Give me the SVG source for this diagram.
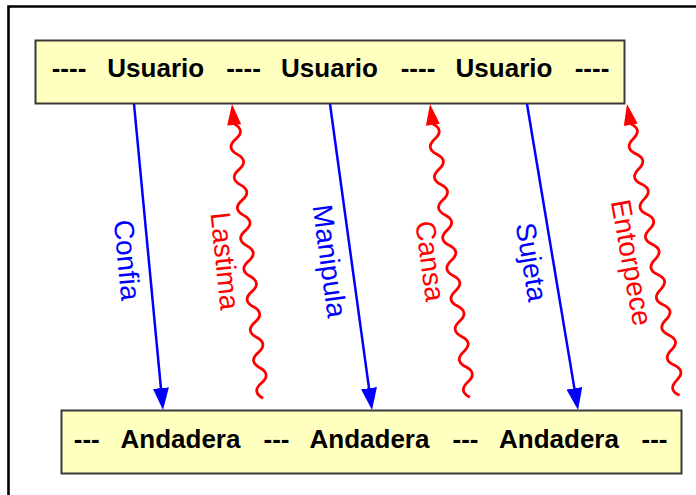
<svg xmlns="http://www.w3.org/2000/svg" xmlns:xlink="http://www.w3.org/1999/xlink" width="696" height="495" viewBox="0 0 696 495">
  <style>
    .bar { fill: #FFFFC0; stroke: #3a3a3a; stroke-width: 2; }
    .bar-text { font-family: "Liberation Sans", Arial, sans-serif; font-weight: bold; font-size: 26px; fill: #000; text-anchor: middle; }
    .blue-line { stroke: #0000FF; stroke-width: 2.5; fill: none; }
    .red-wave { stroke: #FF0000; stroke-width: 2.8; fill: none; stroke-linejoin: round; }
    .red-head { fill: #FF0000; }
    .lbl { font-family: "Liberation Sans", Arial, sans-serif; font-size: 28px; text-anchor: middle; }
    .lbl-blue { fill: #0000FF; }
    .lbl-red { fill: #FF0000; }
  </style>
  <defs>
    <marker id="blueHead" viewBox="0 0 22 16" refX="12" refY="8" markerWidth="22" markerHeight="16" markerUnits="userSpaceOnUse" orient="auto">
      <path d="M0,0 L22,8 L0,16 Z" fill="#0000FF"/>
    </marker>
    <!-- wavy arrow in a local frame: tip at origin, body running along +x -->
    <g id="wavyArrow">
      <path class="red-wave" d="M20,0 q7.67,-11 15.33,0 t15.33,0 t15.33,0 t15.33,0 t15.33,0 t15.33,0 t15.33,0 t15.33,0 t15.33,0 t15.33,0 t15.33,0 t15.33,0 t15.33,0 t15.33,0 t15.33,0 t15.33,0 t15.33,0 t15.33,0"/>
      <path class="red-head" d="M0,0 L21,-7 L21,7 Z"/>
    </g>
  </defs>

  <rect width="696" height="495" fill="#FFFFFF"/>
  <!-- outer frame -->
  <path d="M8.5,495 V6.5 H696" fill="none" stroke="#000" stroke-width="2.6"/>

  <g id="usuario-bar">
    <rect class="bar" x="35.5" y="40.5" width="589" height="63"/>
    <text class="bar-text" x="69" y="77">----</text>
    <text class="bar-text" x="155.75" y="77">Usuario</text>
    <text class="bar-text" x="243.5" y="77">----</text>
    <text class="bar-text" x="329.5" y="77">Usuario</text>
    <text class="bar-text" x="418" y="77">----</text>
    <text class="bar-text" x="504" y="77">Usuario</text>
    <text class="bar-text" x="592" y="77">----</text>
  </g>

  <g id="andadera-bar">
    <rect class="bar" x="61.5" y="410.5" width="620" height="63"/>
    <text class="bar-text" x="86.75" y="448">---</text>
    <text class="bar-text" x="180.5" y="448">Andadera</text>
    <text class="bar-text" x="276.5" y="448">---</text>
    <text class="bar-text" x="369.5" y="448">Andadera</text>
    <text class="bar-text" x="465.5" y="448">---</text>
    <text class="bar-text" x="559" y="448">Andadera</text>
    <text class="bar-text" x="654.5" y="448">---</text>
  </g>

  <g id="connectors">
    <!-- straight blue arrows, top to bottom -->
    <line class="blue-line" x1="134" y1="104" x2="162.06" y2="400.05" marker-end="url(#blueHead)"/>
    <line class="blue-line" x1="330" y1="104" x2="370.64" y2="400.09" marker-end="url(#blueHead)"/>
    <line class="blue-line" x1="527" y1="104" x2="576.36" y2="400.14" marker-end="url(#blueHead)"/>

    <!-- wavy red arrows, bottom to top -->
    <use xlink:href="#wavyArrow" transform="translate(232,104) rotate(83.98)"/>
    <use xlink:href="#wavyArrow" transform="translate(430,104) rotate(82.25)"/>
    <use xlink:href="#wavyArrow" transform="translate(627,104) rotate(79.78)"/>
  </g>

  <g id="labels">
    <g transform="translate(127.5,260) rotate(84.6)"><text class="lbl lbl-blue" x="0" y="10">Confia</text></g>
    <g transform="translate(225.5,261) rotate(84)"><text class="lbl lbl-red" x="0" y="10">Lastima</text></g>
    <g transform="translate(330,261) rotate(82.2)"><text class="lbl lbl-blue" x="0" y="10">Manipula</text></g>
    <g transform="translate(430.5,261) rotate(82.3)"><text class="lbl lbl-red" x="0" y="10">Cansa</text></g>
    <g transform="translate(532,262) rotate(80.5)"><text class="lbl lbl-blue" x="0" y="10">Sujeta</text></g>
    <g transform="translate(632,262.5) rotate(79.8)"><text class="lbl lbl-red" x="0" y="10">Entorpece</text></g>
  </g>
</svg>
